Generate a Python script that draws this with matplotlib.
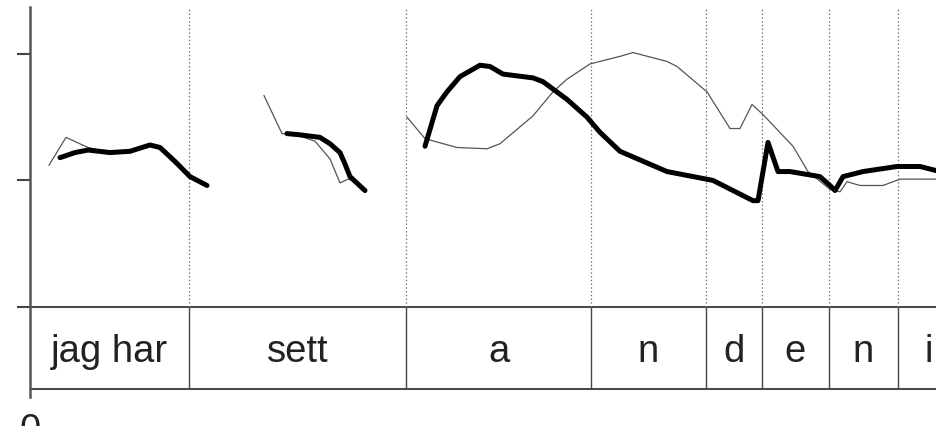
import matplotlib
matplotlib.use('Agg')
import matplotlib.pyplot as plt

plt.rcParams['font.family'] = ['Liberation Sans', 'DejaVu Sans']

# time in ms, F0 in Hz
thin1_t = [38, 72, 116, 160, 200, 240, 260, 290, 324]
thin1_f = [212, 234, 226, 222, 222, 227, 225, 213, 201]
thick1_t = [60, 90, 116, 160, 200, 240, 260, 290, 320, 354]
thick1_f = [218, 222, 224, 222, 223, 228, 226, 215, 203, 196]

thin2_t = [468, 504, 540, 570, 600, 620, 636, 644]
thin2_f = [267, 237, 235, 231, 217, 198, 201, 200]
thick2_t = [514, 540, 580, 600, 620, 630, 640, 670]
thick2_f = [237, 236, 234, 229, 222, 213, 203, 192]

thin3_t = [754, 790, 854, 914, 940, 1006, 1046, 1074, 1120, 1180, 1206, 1274, 1294,
           1354, 1400, 1420, 1444, 1466, 1526, 1556, 1600, 1620, 1634, 1660, 1706, 1740, 1840]
thin3_f = [250, 233, 226, 225, 229, 251, 270, 280, 292, 298, 301, 294, 290,
           270, 241, 241, 260, 252, 227, 207, 193, 191, 199, 196, 196, 201, 201]
thick3_t = [790, 814, 834, 860, 900, 920, 946, 1006, 1026, 1074, 1114, 1140, 1180, 1274,
            1366, 1446, 1456, 1476, 1496, 1520, 1580, 1600, 1610, 1626, 1666, 1734, 1780, 1840]
thick3_f = [227, 259, 270, 282, 291, 290, 284, 281, 278, 264, 250, 238, 223, 207,
            200, 184, 184, 230, 207, 207, 203, 196, 192, 203, 207, 211, 211, 205]

bounds = [318, 752, 1122, 1352, 1464, 1598, 1736, 1860]
labels = ['jag har', 'sett', 'a', 'n', 'd', 'e', 'n', 'i']

tier_top = 100
tier_bot = 35.2

fig = plt.figure(figsize=(9.36, 4.27), dpi=100)
ax = fig.add_axes([30/936, 29/427, 906/936, 390/427])
ax.set_xlim(0, 1812)
ax.set_ylim(28.9, 337)

for s in ['top', 'right', 'bottom']:
    ax.spines[s].set_visible(False)
ax.spines['left'].set_color('#555555')
ax.spines['left'].set_linewidth(1.8)

ax.set_xticks([])
ax.set_yticks([100, 200, 300])
ax.set_yticklabels([])
ax.tick_params(axis='y', direction='out', length=9.5, width=1.5, color='#444444')

# tier
ax.hlines([tier_top, tier_bot], 0, 1900, color='#444444', lw=1.4)
ax.vlines(bounds, tier_top, 337, color='#777777', lw=0.9, linestyles=(0, (1.2, 1.8)))
ax.vlines(bounds, tier_bot, tier_top, color='#444444', lw=1.0)
edges = [0] + bounds
for i, lab in enumerate(labels):
    ax.text((edges[i] + edges[i+1]) / 2, 57.3, lab, ha='center', va='baseline',
            fontsize=27.5, color='#222222')

# pitch contours
for t, f in [(thin1_t, thin1_f), (thin2_t, thin2_f), (thin3_t, thin3_f)]:
    ax.plot(t, f, color='#555555', lw=0.9)
for t, f in [(thick1_t, thick1_f), (thick2_t, thick2_f), (thick3_t, thick3_f)]:
    ax.plot(t, f, color='black', lw=3.6, solid_joinstyle='round', solid_capstyle='round')

ax.text(0, 17, '0', ha='center', va='top', fontsize=27.5, color='#222222', clip_on=False)

fig.savefig('out.png', dpi=100, facecolor='white')
